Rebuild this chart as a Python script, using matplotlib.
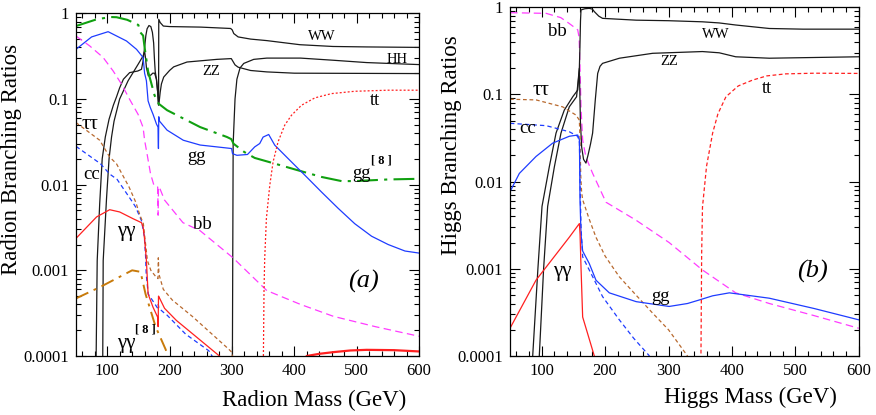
import matplotlib
matplotlib.use('Agg')
import matplotlib.pyplot as plt
from matplotlib.ticker import FixedLocator, MultipleLocator, LogLocator, NullFormatter

plt.rcParams['font.family'] = ['Liberation Serif', 'DejaVu Serif']

# ---------------- Radion panel (a) ----------------
ww_r_x = [82, 82.3, 84, 88, 92, 97, 103, 110, 115, 120, 126, 136, 149, 155, 157.6, 160, 162, 164, 167, 170,
          172.5, 174.5, 175.7, 177, 179, 181, 182.4, 182.7, 185, 190, 200, 250, 298, 300.5, 303, 310, 330,
          356, 409, 462, 516, 600]
ww_r_y = [1e-5, 1e-4, 0.0013, 0.006, 0.02, 0.036, 0.058, 0.085, 0.106, 0.135, 0.17, 0.203, 0.212, 0.222,
          0.278, 0.40, 0.55, 0.66, 0.72, 0.70, 0.60, 0.45, 0.30, 0.21, 0.17, 0.12, 0.085, 0.85, 0.78, 0.71,
          0.70, 0.69, 0.665, 0.64, 0.58, 0.53, 0.50, 0.48, 0.43, 0.41, 0.405, 0.40]

zz_r_x = [92.6, 92.9, 93.6, 99, 103, 107, 111, 120, 133.5, 149.6, 157.6, 160, 161.5, 163, 166, 170, 173, 176,
          179, 181, 182.4, 183.5, 185, 187, 190.6, 200, 206.6, 228, 276, 299, 301, 305, 310, 330, 356, 400, 600]
zz_r_y = [1e-5, 1e-4, 0.0013, 0.007, 0.02, 0.036, 0.055, 0.1, 0.163, 0.254, 0.318, 0.36, 0.30, 0.23, 0.186,
          0.19, 0.20, 0.20, 0.17, 0.12, 0.085, 0.095, 0.12, 0.15, 0.18, 0.215, 0.237, 0.27, 0.29, 0.296, 0.28,
          0.25, 0.235, 0.215, 0.207, 0.20, 0.198]

hh_r_x = [300.3, 300.8, 302, 305, 308, 313, 319, 335, 356, 410, 463, 516, 600]
hh_r_y = [1e-5, 1e-4, 0.03, 0.10, 0.17, 0.23, 0.26, 0.29, 0.30, 0.30, 0.283, 0.266, 0.252]

gg8_r_x = [50, 83, 105, 115, 132, 147, 150, 153, 157.6, 160, 165.6, 176, 182.6, 196, 249, 292, 299, 302.7,
           320, 336.6, 368.7, 406, 443.7, 475.8, 497, 550.6, 600]
gg8_r_y = [0.71, 0.85, 0.905, 0.90, 0.84, 0.75, 0.73, 0.60, 0.55, 0.40, 0.21, 0.11, 0.088, 0.074, 0.047,
           0.036, 0.034, 0.030, 0.024, 0.0205, 0.0176, 0.0147, 0.0123, 0.0110, 0.0110, 0.0115, 0.0117]

gg_r_x = [50, 75, 101.5, 131, 147, 157.6, 160, 162.9, 165.6, 169, 173.6, 179, 181.5, 182.2, 182.7, 184, 196,
          222, 249, 299.5, 301, 308, 325, 336.6, 344.6, 350, 359, 368.7, 390, 416.9, 443.7, 470.3, 497, 524,
          550.6, 577.5, 600]
gg_r_y = [0.38, 0.53, 0.61, 0.475, 0.38, 0.305, 0.20, 0.163, 0.095, 0.08, 0.066, 0.051, 0.047, 0.0264, 0.062,
          0.055, 0.0433, 0.033, 0.029, 0.0264, 0.023, 0.022, 0.0225, 0.0276, 0.0302, 0.0359, 0.0385, 0.0289,
          0.0202, 0.0129, 0.0082, 0.0053, 0.0035, 0.0025, 0.0020, 0.00168, 0.00159]

cc_r_x = [50, 89, 104, 116, 141, 145.5, 155, 159.5, 161.5, 162.6, 165.8, 175, 181, 182, 183, 191, 196, 225.8,
          263, 272]
cc_r_y = [0.028, 0.0176, 0.0133, 0.0115, 0.0062, 0.0055, 0.0038, 0.0025, 0.0015, 0.0009, 0.00053, 0.00042,
          0.00036, 0.00040, 0.00036, 0.00032, 0.0003, 0.00018, 0.000115, 0.00009]

tau_r_x = [50, 88, 104, 115, 135, 146, 152, 158, 162, 164.5, 170, 177.6, 181.5, 182, 183, 190, 204.4, 236.5,
           295, 300, 303]
tau_r_y = [0.053, 0.033, 0.021, 0.0175, 0.0094, 0.0062, 0.0045, 0.0035, 0.0019, 0.0013, 0.0010, 0.00085,
           0.0008, 0.0014, 0.0009, 0.0006, 0.00045, 0.00029, 0.00012, 0.00011, 0.00008]

bb_r_x = [50, 72, 93.5, 109.6, 123, 136, 149.6, 157.6, 160, 163, 169.5, 175, 181, 181.7, 182.3, 184, 192,
          221.5, 249, 301.7, 356, 410, 463, 530, 600]
bb_r_y = [0.543, 0.416, 0.305, 0.212, 0.149, 0.099, 0.066, 0.0465, 0.033, 0.025, 0.0134, 0.0098, 0.0094,
          0.0044, 0.0094, 0.0092, 0.0066, 0.0036, 0.0029, 0.0014, 0.00058, 0.0004, 0.00029, 0.00022, 0.00017]

aa_r_x = [50, 83, 104, 120, 141.6, 155, 157.6, 160, 162.9, 165.6, 173.6, 181.3, 181.7, 182.3, 183, 192, 211,
          243, 280, 300]
aa_r_y = [0.00236, 0.0042, 0.0051, 0.0048, 0.004, 0.0036, 0.0032, 0.0023, 0.0013, 0.00053, 0.00037, 0.00028,
          0.00022, 0.0005, 0.00049, 0.00036, 0.00026, 0.000167, 0.0001, 0.00007]

aa2_r_x = [410, 420, 440, 463, 490, 516, 560, 600]
aa2_r_y = [0.00008, 0.0001, 0.000106, 0.000111, 0.000116, 0.000118, 0.000117, 0.000113]

tt_r_x = [350, 350.5, 351.5, 352.6, 355.3, 360.7, 366, 374, 384.7, 395.5, 411.6, 433, 459.7, 497, 550.6, 600]
tt_r_y = [1e-5, 1e-4, 0.0006, 0.00138, 0.00403, 0.0098, 0.0184, 0.0316, 0.0495, 0.0645, 0.0845, 0.103,
          0.1155, 0.123, 0.1266, 0.1266]

aa8_r_x = [50, 89, 140, 153.5, 161.5, 177.6, 193.6, 200]
aa8_r_y = [0.00047, 0.00064, 0.001, 0.00096, 0.00053, 0.00022, 0.00012, 0.00009]

# ---------------- Higgs panel (b) ----------------
bb_h_x = [50, 107, 130, 143.5, 156.8, 159, 160.5, 162, 164.6, 169.8, 180.4, 201.4, 249, 301, 353.5, 406,
          459, 530, 600]
bb_h_y = [0.865, 0.85, 0.76, 0.65, 0.55, 0.45, 0.2, 0.07, 0.03, 0.019, 0.0124, 0.0058, 0.0036, 0.002,
          0.00097, 0.00053, 0.0004, 0.00029, 0.000208]

ww_h_x = [85.5, 85.8, 94, 100.5, 112, 122.6, 135.6, 149, 156.8, 159.4, 160.3, 161.2, 162, 168, 175, 180, 183,
          190, 196, 249, 300, 353.5, 380, 406, 459, 512, 600]
ww_h_y = [1e-5, 1e-4, 0.001, 0.0052, 0.0148, 0.036, 0.066, 0.094, 0.112, 0.2, 0.35, 0.7, 0.93, 0.96, 0.97,
          0.95, 0.89, 0.79, 0.745, 0.71, 0.70, 0.68, 0.66, 0.625, 0.57, 0.56, 0.56]

zz_h_x = [96, 96.2, 103, 109.4, 120, 130.4, 143.5, 155, 159.4, 160.2, 161, 163, 166, 169.8, 173, 177, 180.3,
          184.5, 188.3, 192, 196, 222.6, 275, 353.5, 380, 406, 459, 600]
zz_h_y = [1e-5, 1e-4, 0.001, 0.0052, 0.0148, 0.036, 0.072, 0.094, 0.2, 0.1, 0.05, 0.025, 0.018, 0.0163,
          0.02, 0.027, 0.036, 0.086, 0.174, 0.21, 0.227, 0.26, 0.296, 0.31, 0.30, 0.27, 0.26, 0.27]

tau_h_x = [50, 91, 133, 154, 159.4, 160.5, 161.5, 163, 164.6, 175, 185.6, 200, 222.4, 248.7, 275, 300, 330]
tau_h_y = [0.088, 0.0865, 0.072, 0.058, 0.0507, 0.03, 0.012, 0.0075, 0.0062, 0.0037, 0.0023, 0.0014,
           0.00081, 0.0005, 0.00031, 0.0002, 0.0001]

cc_h_x = [50, 107, 143.5, 156.8, 159.5, 160.5, 162, 164.6, 180.4, 196, 222.4, 245, 270]
cc_h_y = [0.0466, 0.0438, 0.0373, 0.0331, 0.028, 0.01, 0.003, 0.00137, 0.00081, 0.00048, 0.00026, 0.00016,
          0.0001]

gg_h_x = [50, 64.7, 91, 117.3, 143.5, 156.8, 159.5, 160.4, 162, 164.6, 175, 185.6, 206.6, 249, 301, 330,
          349, 369.6, 396, 459, 530, 600]
gg_h_y = [0.00766, 0.0124, 0.0194, 0.0276, 0.0331, 0.0342, 0.03, 0.0062, 0.0025, 0.0016, 0.00115, 0.00074,
          0.00053, 0.00042, 0.00037, 0.0004, 0.00044, 0.00049, 0.00053, 0.00046, 0.00035, 0.00026]

aa_h_x = [50, 91, 143.5, 159.4, 160.5, 162, 164.6, 172.5, 183]
aa_h_y = [0.000208, 0.00074, 0.0023, 0.0033, 0.0025, 0.00104, 0.00028, 0.00018, 0.0001]

tt_h_x = [350.5, 351.2, 352.3, 353.6, 360, 369.6, 378, 390.6, 410, 432.7, 455, 485, 530, 600]
tt_h_y = [1e-5, 1e-4, 0.0015, 0.0051, 0.015, 0.036, 0.06, 0.094, 0.125, 0.146, 0.163, 0.172, 0.175, 0.174]

ytick_vals = [1e-4, 1e-3, 1e-2, 1e-1, 1]
ytick_labels = ['0.0001', '0.001', '0.01', '0.1', '1']
xtick_vals = [100, 200, 300, 400, 500, 600]

BLACK = '#1a1a1a'
BLUE = '#1e3cff'
MAG = '#ff3cff'
BROWN = '#b8692e'
GREEN = '#10a010'
RED = '#ff2020'
ORANGE = '#c87a0a'

fig = plt.figure(figsize=(8.76, 4.15), dpi=100)
axa = fig.add_axes([76/876, 1-356/415, (419-76)/876, (356-13.3)/415])
axb = fig.add_axes([510/876, 1-356/415, (858.7-510)/876, (356-7.2)/415])


def style(ax):
    ax.set_yscale('log')
    ax.set_xlim(50, 600)
    ax.set_ylim(1e-4, 1)
    ax.yaxis.set_major_locator(FixedLocator(ytick_vals))
    ax.set_yticklabels(ytick_labels)
    ax.yaxis.set_minor_locator(LogLocator(base=10, subs=range(2, 10)))
    ax.yaxis.set_minor_formatter(NullFormatter())
    ax.xaxis.set_major_locator(FixedLocator(xtick_vals))
    ax.set_xticklabels([str(v) for v in xtick_vals])
    ax.xaxis.set_minor_locator(MultipleLocator(20))
    ax.tick_params(which='both', direction='in', top=True, right=True, labelsize=12, width=0.8, pad=5)
    ax.tick_params(which='major', length=7)
    ax.tick_params(which='minor', length=3.5)
    for s in ax.spines.values():
        s.set_linewidth(0.9)


style(axa)
style(axb)

lw = 0.9
# panel (a)
axa.plot(ww_r_x, ww_r_y, color=BLACK, lw=lw)
axa.plot(zz_r_x, zz_r_y, color=BLACK, lw=lw)
axa.plot(hh_r_x, hh_r_y, color=BLACK, lw=lw)
axa.plot(gg8_r_x, gg8_r_y, color=GREEN, lw=1.5, dashes=(10, 3, 1.5, 3))
axa.plot(gg_r_x, gg_r_y, color=BLUE, lw=lw)
axa.plot(cc_r_x, cc_r_y, color=BLUE, lw=lw, dashes=(3.5, 2.5))
axa.plot(tau_r_x, tau_r_y, color=BROWN, lw=lw, dashes=(3, 2.2))
axa.plot(bb_r_x, bb_r_y, color=MAG, lw=lw, dashes=(6, 3.5))
axa.plot(aa_r_x, aa_r_y, color=RED, lw=lw)
axa.plot(aa2_r_x, aa2_r_y, color=RED, lw=1.6)
axa.plot(tt_r_x, tt_r_y, color=RED, lw=lw, dashes=(1.6, 1.6))
axa.plot(aa8_r_x, aa8_r_y, color=ORANGE, lw=1.4, dashes=(7, 3, 1.5, 3))

lab = dict(ha='center', va='center', fontsize=13.5)
labG = dict(ha='center', va='center', fontsize=15)
labU = dict(ha='center', va='center', fontsize=10.5)
sup = dict(ha='center', va='center', fontsize=9, fontweight='bold')
axa.text(443.7, 0.53, 'WW', **labU)
axa.text(565, 0.288, 'HH', **labU)
axa.text(266, 0.207, 'ZZ', **labU)
axa.text(529, 0.0968, 'tt', **lab)
axa.text(244, 0.0211, 'gg', **lab)
axa.text(508, 0.0134, 'gg', **lab)
axa.text(540, 0.0193, '[ 8 ]', **sup)
axa.text(72.7, 0.0508, 'ττ', **labG)
axa.text(74.3, 0.0133, 'cc', **lab)
axa.text(252.6, 0.00347, 'bb', **lab)
axa.text(130.5, 0.00282, 'γγ', **labG)
axa.text(130.5, 0.000141, 'γγ', **labG)
axa.text(161, 0.000205, '[ 8 ]', **sup)
axa.text(511.6, 0.000736, '(a)', ha='center', va='center', fontsize=19, style='italic')

# panel (b)
axb.plot(bb_h_x, bb_h_y, color=MAG, lw=lw, dashes=(6, 3.5))
axb.plot(ww_h_x, ww_h_y, color=BLACK, lw=lw)
axb.plot(zz_h_x, zz_h_y, color=BLACK, lw=lw)
axb.plot(tau_h_x, tau_h_y, color=BROWN, lw=lw, dashes=(3, 2.2))
axb.plot(cc_h_x, cc_h_y, color=BLUE, lw=lw, dashes=(3.5, 2.5))
axb.plot(gg_h_x, gg_h_y, color=BLUE, lw=lw)
axb.plot(aa_h_x, aa_h_y, color=RED, lw=lw)
axb.plot(tt_h_x, tt_h_y, color=RED, lw=lw, dashes=(3, 2))

axb.text(125, 0.524, 'bb', **lab)
axb.text(375, 0.48, 'WW', **labU)
axb.text(301, 0.237, 'ZZ', **labU)
axb.text(456, 0.117, 'tt', **lab)
axb.text(99, 0.112, 'ττ', **labG)
axb.text(78, 0.0408, 'cc', **lab)
axb.text(133, 0.000927, 'γγ', **labG)
axb.text(288, 0.00048, 'gg', **lab)
axb.text(527, 0.000927, '(b)', ha='center', va='center', fontsize=19, style='italic')

# axis titles
fig.text(314/876, 1-400/415, 'Radion Mass (GeV)', ha='center', va='center', fontsize=16.5)
fig.text(750/876, 1-397/415, 'Higgs Mass (GeV)', ha='center', va='center', fontsize=16.5)
fig.text(12/876, 1-159/415, 'Radion Branching Ratios', ha='center', va='center', fontsize=16.5, rotation=90)
fig.text(451/876, 1-145/415, 'Higgs Branching Ratios', ha='center', va='center', fontsize=16.5, rotation=90)

fig.savefig('out.png', dpi=100)
